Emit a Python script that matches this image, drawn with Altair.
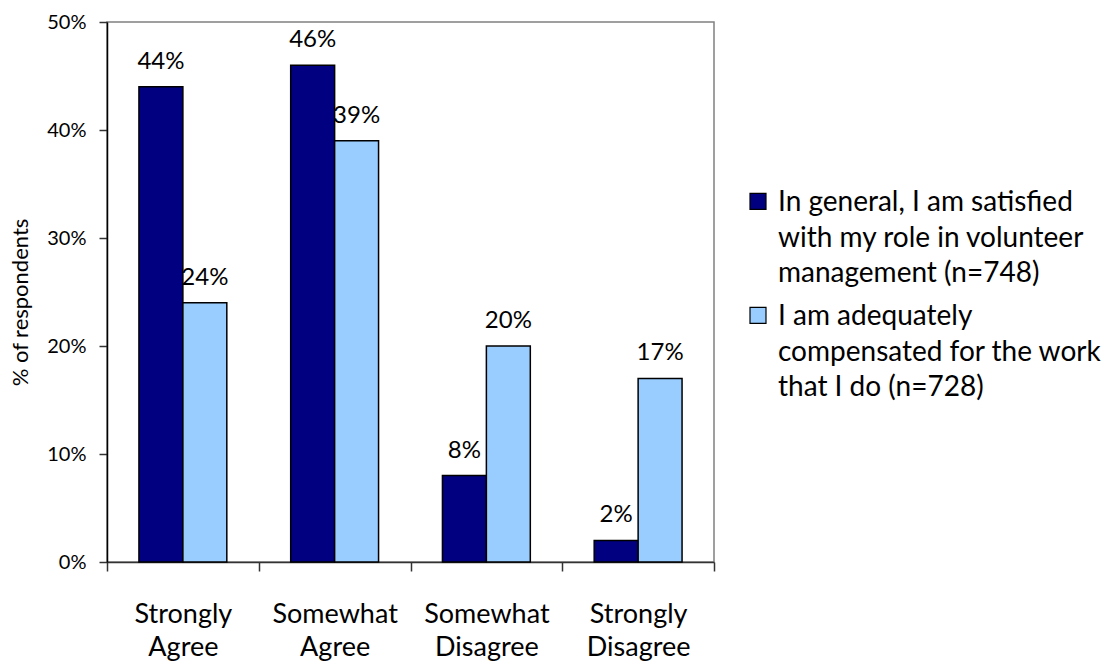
import altair as alt
import pandas as pd

categories = ["Strongly Agree", "Somewhat Agree", "Somewhat Disagree", "Strongly Disagree"]
series_names = [
    "In general, I am satisfied|with my role in volunteer|management (n=748)",
    "I am adequately|compensated for the work|that I do (n=728)",
]
satisfied = [44, 46, 8, 2]
compensated = [24, 39, 20, 17]
colors = ["#000080", "#99CCFF"]
y_ticks = [0, 10, 20, 30, 40, 50]

rows = []
for i, c in enumerate(categories):
    rows.append({"category": c, "series": series_names[0], "value": satisfied[i]})
    rows.append({"category": c, "series": series_names[1], "value": compensated[i]})
df = pd.DataFrame(rows)

FONT = "Lato"

base = alt.Chart(df).encode(
    x=alt.X(
        "category:N",
        sort=categories,
        scale=alt.Scale(paddingInner=0, paddingOuter=0),
        axis=alt.Axis(
            title=None,
            labelExpr="split(datum.label, ' ')",
            labelAngle=0,
            tickBand="extent",
            labelFont=FONT,
            labelFontSize=27,
            labelColor="black",
            labelLineHeight=33,
            labelBaseline="top",
            labelPadding=30,
            tickSize=9,
            tickColor="#333333",
            domainColor="#333333",
            domainWidth=1.5,
            tickWidth=1.5,
            grid=False,
        ),
    ),
    xOffset=alt.XOffset(
        "series:N", sort=series_names,
        scale=alt.Scale(paddingInner=0, paddingOuter=0.727),
    ),
    y=alt.Y(
        "value:Q",
        scale=alt.Scale(domain=[0, 50], nice=False),
        axis=alt.Axis(
            title="% of respondents",
            values=y_ticks,
            labelExpr="datum.value + '%'",
            labelFont=FONT,
            labelFontSize=20,
            labelColor="black",
            labelPadding=13,
            tickSize=8,
            tickColor="#333333",
            tickWidth=1.5,
            domainColor="black",
            domainWidth=1.5,
            grid=False,
            titleFont=FONT,
            titleFontSize=22,
            titleFontWeight="normal",
            titleColor="black",
            titleX=-87,
            titleY=280,
            titleAngle=270,
            titleAlign="center",
            titleBaseline="middle",
        ),
    ),
)

text = base.transform_calculate(label="datum.value + '%'").mark_text(
    baseline="alphabetic", dy=-18, font=FONT, fontSize=24, color="black"
).encode(text="label:N")

bars = base.mark_bar(stroke="black", strokeWidth=1.5).encode(
    color=alt.Color(
        "series:N",
        sort=series_names,
        scale=alt.Scale(domain=series_names, range=colors),
        legend=alt.Legend(
            title=None,
            orient="none",
            legendX=637,
            legendY=175,
            labelExpr="split(datum.label, '|')",
            labelFont=FONT,
            labelFontSize=28,
            labelColor="black",
            labelLimit=600,
            labelBaseline="alphabetic",
            labelOffset=6,
            symbolType="M-1,-2.2H1V-0.2H-1Z",
            symbolSize=256,
            symbolStrokeColor="black",
            symbolStrokeWidth=1.2,
            symbolOpacity=1,
            rowPadding=15,
            padding=0,
        ),
    )
)

chart = alt.layer(text, bars).properties(
    width=607,
    height=540,
    autosize=alt.AutoSizeParams(type="none"),
    padding={"left": 107, "top": 22, "right": 391, "bottom": 101},
).configure(
    view=alt.ViewConfig(stroke="#808080", strokeWidth=1.5),
    style={"guide-label": {"lineHeight": 35.5}},
)

chart.save("out.html", embed_options={"renderer": "svg", "actions": False})
